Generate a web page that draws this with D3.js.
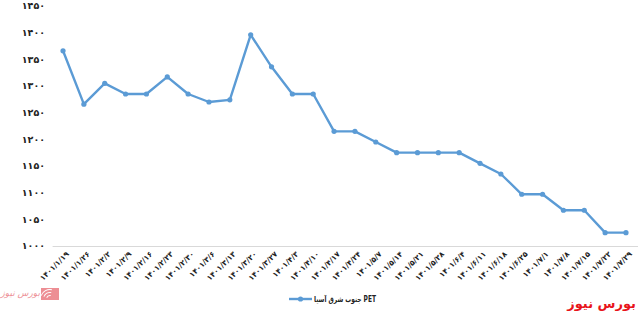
<!DOCTYPE html>
<html>
<head>
<meta charset="utf-8">
<script src="https://cdn.jsdelivr.net/npm/d3@7"></script>
<style>
  body { margin: 0; background: #fff; }
  svg { display: block; font-family: "DejaVu Sans", sans-serif; }
</style>
</head>
<body>
<script>
// data
var dates = ["1401/1/19", "1401/1/26", "1401/2/2", "1401/2/9", "1401/2/16", "1401/2/23", "1401/2/30",
    "1401/3/6", "1401/3/13", "1401/3/20", "1401/3/27", "1401/4/3", "1401/4/10", "1401/4/17", "1401/4/24",
    "1401/5/7", "1401/5/14", "1401/5/21", "1401/5/28", "1401/6/4", "1401/6/11", "1401/6/18", "1401/6/25",
    "1401/7/1", "1401/7/8", "1401/7/15", "1401/7/22", "1401/7/29"];
var prices = [1366, 1266, 1305, 1285, 1285, 1317, 1285, 1270, 1274, 1396, 1336, 1285, 1285, 1215, 1215,
    1195, 1175, 1175, 1175, 1175, 1155, 1135, 1097, 1097, 1067, 1067, 1025, 1025];
var yTicks = [1000, 1050, 1100, 1150, 1200, 1250, 1300, 1350, 1400, 1450];
var seriesName = "جنوب شرق آسیا PET";
var brand = "بورس نیوز";

var width = 640, height = 316;
var fa = function (s) { return String(s).replace(/\d/g, function (d) { return "۰۱۲۳۴۵۶۷۸۹"[d]; }); };

var svg = d3.select("body").append("svg")
    .attr("width", width)
    .attr("height", height);

var x = d3.scalePoint()
    .domain(dates)
    .range([52.6, 636.4])
    .padding(0.5);

var y = d3.scaleLinear()
    .domain([1000, 1450])
    .range([246, 6]);

// y labels (no axis line)
svg.append("g").selectAll("text")
    .data(yTicks)
    .enter().append("text")
    .attr("x", 45)
    .attr("y", function (d) { return y(d); })
    .attr("dy", "0.35em")
    .attr("text-anchor", "end")
    .attr("font-size", 9.5)
    .attr("font-weight", "bold")
    .attr("fill", "#222")
    .text(function (d) { return fa(d); });

// x axis
var xAxis = svg.append("g")
    .attr("transform", "translate(0,246.5)")
    .call(d3.axisBottom(x).tickSize(0).tickPadding(0).tickFormat(fa));
xAxis.select(".domain").attr("stroke", "#d9d9d9").attr("stroke-width", 1)
    .attr("d", "M52.6,0H638");
xAxis.selectAll("text")
    .attr("font-family", "DejaVu Sans, sans-serif")
    .attr("font-size", 7.5)
    .attr("font-weight", "bold")
    .attr("fill", "#222")
    .attr("direction", "ltr")
    .attr("text-anchor", "end")
    .attr("y", 0)
    .attr("dy", 0)
    .attr("transform", "translate(6,8) rotate(-45)");

// line
svg.append("path")
    .datum(prices)
    .attr("fill", "none")
    .attr("stroke", "#5b9bd5")
    .attr("stroke-width", 2.4)
    .attr("stroke-linejoin", "round")
    .attr("d", d3.line()
        .x(function (d, i) { return x(dates[i]); })
        .y(function (d) { return y(d); }));

svg.append("g").selectAll("circle")
    .data(prices)
    .enter().append("circle")
    .attr("cx", function (d, i) { return x(dates[i]); })
    .attr("cy", function (d) { return y(d); })
    .attr("r", 2.6)
    .attr("fill", "#5b9bd5");

// legend
var lg = svg.append("g").attr("transform", "translate(0,299)");
lg.append("line")
    .attr("x1", 289).attr("x2", 312)
    .attr("stroke", "#5b9bd5").attr("stroke-width", 2.4);
lg.append("circle").attr("cx", 300.5).attr("r", 2.6).attr("fill", "#5b9bd5");
lg.append("text")
    .attr("x", 345)
    .attr("dy", "0.35em")
    .attr("text-anchor", "middle")
    .attr("font-size", 8)
    .attr("font-weight", "bold")
    .attr("fill", "#222")
    .attr("textLength", 62)
    .attr("lengthAdjust", "spacingAndGlyphs")
    .text(seriesName);

// brand
svg.append("text")
    .attr("x", 636)
    .attr("y", 308)
    .attr("direction", "rtl")
    .attr("text-anchor", "start")
    .attr("font-size", 13)
    .attr("font-weight", "bold")
    .attr("fill", "#e8141b")
    .text(brand);

// faded logo, bottom left
var logo = svg.append("g").attr("opacity", 0.55);
logo.append("rect")
    .attr("x", 41).attr("y", 288).attr("width", 18).attr("height", 12)
    .attr("fill", "#e0333d");
[4, 7, 10].forEach(function (r) {
    logo.append("path")
        .attr("d", d3.arc()({ innerRadius: r - 1, outerRadius: r, startAngle: -1.2, endAngle: 0.2 }))
        .attr("transform", "translate(50,299)")
        .attr("fill", "#fff");
});
logo.append("text")
    .attr("x", 40).attr("y", 296)
    .attr("direction", "rtl")
    .attr("text-anchor", "start")
    .attr("font-size", 9)
    .attr("font-style", "italic")
    .attr("fill", "#e0333d")
    .text(brand);
</script>
</body>
</html>
